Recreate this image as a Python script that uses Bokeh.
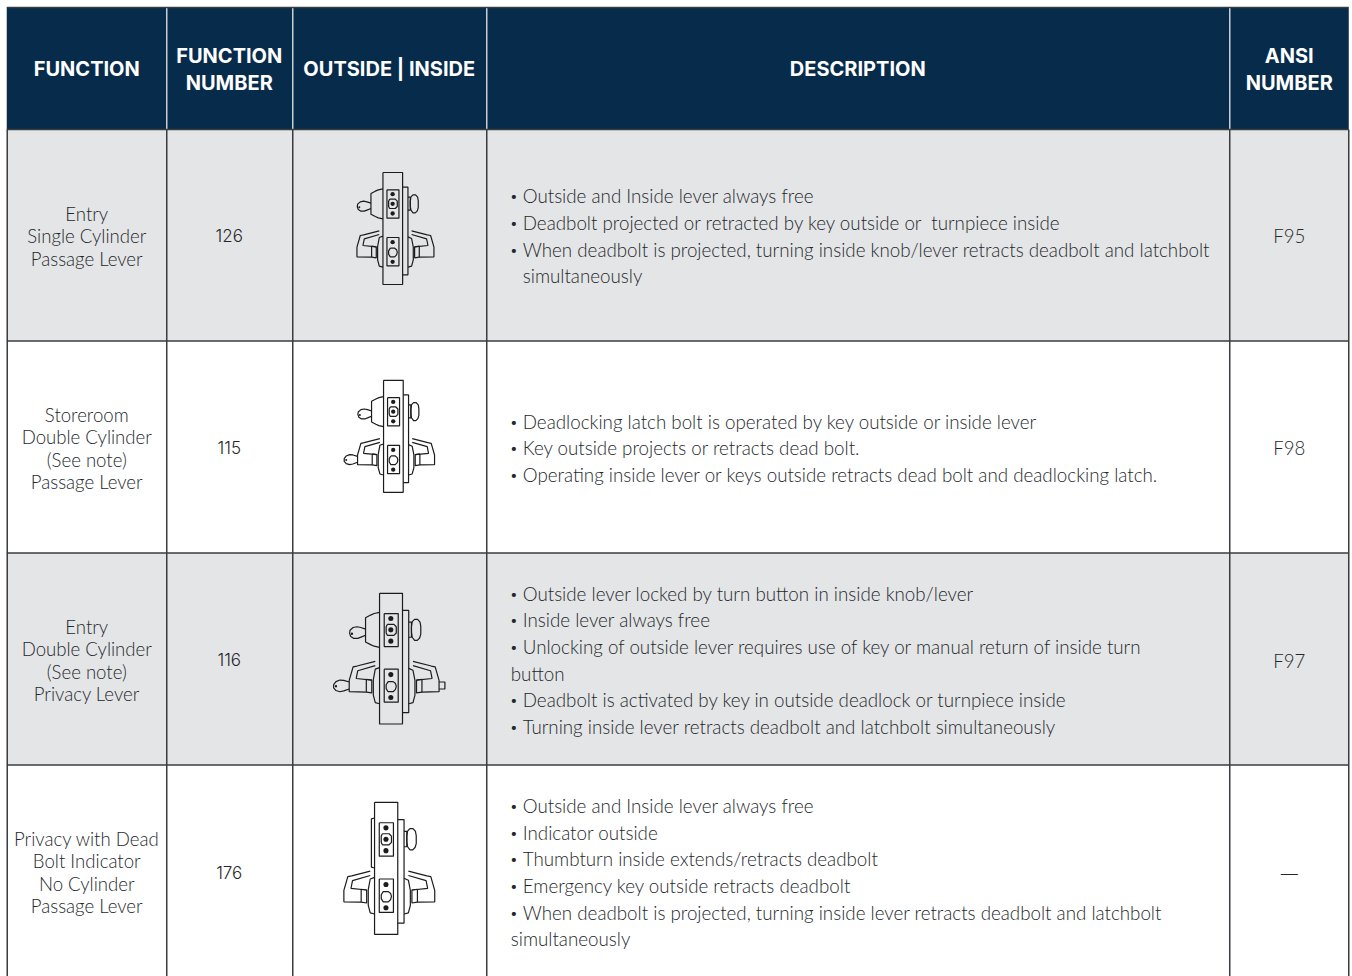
from bokeh.plotting import figure
from bokeh.models import Range1d
from bokeh.core.properties import value
from bokeh.embed import file_html
from bokeh.resources import INLINE

headers = [["FUNCTION"], ["FUNCTION", "NUMBER"], ["OUTSIDE | INSIDE"], ["DESCRIPTION"], ["ANSI", "NUMBER"]]
functions = [
    ["Entry", "Single Cylinder", "Passage Lever"],
    ["Storeroom", "Double Cylinder", "(See note)", "Passage Lever"],
    ["Entry", "Double Cylinder", "(See note)", "Privacy Lever"],
    ["Privacy with Dead", "Bolt Indicator", "No Cylinder", "Passage Lever"],
]
numbers = ["126", "115", "116", "176"]
ansi = ["F95", "F98", "F97", "—"]
# (text, y, 1 = bulleted, 2 = indented continuation, 0 = flush continuation)
descriptions = [
    [("Outside and Inside lever always free", 196, 1), ("Deadbolt projected or retracted by key outside or\u00a0 turnpiece inside", 223, 1),
     ("When deadbolt is projected, turning inside knob/lever retracts deadbolt and latchbolt", 250, 1), ("simultaneously", 276, 2)],
    [("Deadlocking latch bolt is operated by key outside or inside lever", 422, 1), ("Key outside projects or retracts dead bolt.", 448, 1),
     ("Operating inside lever or keys outside retracts dead bolt and deadlocking latch.", 475, 1)],
    [("Outside lever locked by turn button in inside knob/lever", 594, 1), ("Inside lever always free", 620, 1),
     ("Unlocking of outside lever requires use of key or manual return of inside turn", 647, 1), ("button", 674, 0),
     ("Deadbolt is activated by key in outside deadlock or turnpiece inside", 700, 1),
     ("Turning inside lever retracts deadbolt and latchbolt simultaneously", 727, 1)],
    [("Outside and Inside lever always free", 806, 1), ("Indicator outside", 833, 1), ("Thumbturn inside extends/retracts deadbolt", 859, 1),
     ("Emergency key outside retracts deadbolt", 886, 1),
     ("When deadbolt is projected, turning inside lever retracts deadbolt and latchbolt", 913, 1), ("simultaneously", 939, 0)],
]
col_edges = [7.5, 167, 293, 487, 1230, 1349]
row_edges = [130, 341.5, 553.5, 765.5, 977]
func_y = [[214, 236, 259], [415, 437, 460, 482], [627, 649, 672, 694], [839, 861, 884, 906]]
num_y = [236, 448, 660, 873]
ansi_y = [236, 448, 661, 874]

NAVY = "#062b4b"; GRAY = "#e4e5e7"; LINE = "#3a3d40"; TXT = "#24282b"; INK = "#1c1c1c"
BODY = value("Lato Light"); HEAD = value("Inter"); NUM = value("Inter Light")

p = figure(width=1352, height=976, x_range=Range1d(0.75, 1352.75), y_range=Range1d(977, 1),
           toolbar_location=None, output_backend="svg",
           min_border=0, outline_line_color=None, background_fill_color="white")
p.xaxis.visible = False; p.yaxis.visible = False; p.grid.visible = False

p.quad(left=[7], right=[1349], top=[8], bottom=[130], fill_color=NAVY, line_color=None)
p.quad(left=[7, 7], right=[1349, 1349], top=[row_edges[0], row_edges[2]], bottom=[row_edges[1], row_edges[3]], fill_color=GRAY, line_color=None)
for x in col_edges:
    p.line([x, x], [130, 977], line_color=LINE, line_width=1.5)
for x in col_edges[1:-1]:
    p.line([x, x], [8, 130], line_color="#c9ced3", line_width=1.5)
for y in row_edges[:-1]:
    p.line([7, 1349], [y, y], line_color=LINE, line_width=1.5)
p.line([7, 1349], [8, 8], line_color=LINE, line_width=1.5)

centers = [87, 229.5, 389.5, 858, 1289.5]
for h, cx in zip(headers, centers):
    ys = [69] if len(h) == 1 else [56, 83]
    p.text(x=[cx] * len(h), y=ys, text=h, text_font=HEAD, text_font_style="bold", text_font_size="20px",
           text_color="white", text_align="center", text_baseline="middle")
for lines, ys in zip(functions, func_y):
    p.text(x=[87] * len(lines), y=ys, text=lines, text_font=BODY, text_font_size="18.6px", text_color=TXT,
           text_align="center", text_baseline="middle")
p.text(x=[229.5] * 4, y=num_y, text=numbers, text_font=NUM, text_font_size="17px", text_color=TXT, text_align="center", text_baseline="middle")
p.text(x=[1289.5] * 3, y=ansi_y[:3], text=ansi[:3], text_font=BODY, text_font_size="18.6px", text_color=TXT, text_align="center", text_baseline="middle")
p.text(x=[1289.5], y=ansi_y[3:], text=ansi[3:], text_font=NUM, text_font_size="17px", text_color=TXT, text_align="center", text_baseline="middle")
for d in descriptions:
    p.text(x=[523 if l[2] else 511 for l in d], y=[l[1] for l in d], text=[l[0] for l in d], text_font=BODY, text_font_size="18.75px",
           text_color=TXT, text_align="left", text_baseline="middle")
    bul = [l for l in d if l[2] == 1]
    p.text(x=[510] * len(bul), y=[l[1] for l in bul], text=["•"] * len(bul), text_font=BODY, text_font_size="14px",
           text_color=TXT, text_align="left", text_baseline="middle")

PLATE = [(0, 0), (59, 0), (59, 336), (0, 336), (0, 0)]
BACK = [(59, 44), (75, 44), (75, 307), (59, 307)]
BOX1 = [(12, 52), (48, 52), (48, 137), (12, 137), (12, 52)]
BOX2 = [(12, 195), (48, 195), (48, 280), (12, 280), (12, 195)]
CYL = [(20, 80), (37, 80), (43, 86), (43, 102), (37, 108), (20, 108), (17, 102), (17, 86), (20, 80)]
DSHAPE = [(22, 227), (35, 227), (41, 232), (43, 239), (41, 247), (35, 253), (22, 253), (17, 245), (17, 235), (22, 227)]
BOLT = [(0, 49), (-14, 52), (-23, 56), (-36, 63), (-36, 125), (-23, 132), (-14, 136), (0, 139)]
FLAT = [(0, 40), (-8, 42), (-8, 165), (0, 167)]
KEY = [(-36, 92), (-48, 88), (-58, 86), (-68, 88), (-76, 95), (-77, 103), (-74, 111), (-66, 116), (-56, 116), (-46, 112), (-36, 108)]
TURN = [(75, 74), (82, 74), (82, 113), (75, 113)]
KNOB = [(84, 73), (90, 67), (98, 67), (104, 74), (106, 85), (106, 105), (103, 115), (97, 121), (90, 121), (84, 113), (82, 100), (82, 86), (84, 73)]
ROSE_L = [(0, 191), (-11, 195), (-16, 222), (-16, 262), (-11, 281), (0, 284)]
ROSE_R = [(75, 193), (86, 198), (91, 224), (91, 262), (86, 281), (75, 284)]
LEV_L = [(-11, 175), (-58, 187), (-68, 189), (-78, 224), (-78, 253), (-34, 254), (-34, 221)]
INNER_L = [(-11, 186), (-56, 199), (-60, 219), (-20, 223)]
NECK_L = [(-34, 221), (-20, 223), (-20, 256), (-34, 254)]
LEV_R = [(86, 175), (133, 187), (143, 189), (153, 224), (153, 253), (109, 254), (109, 221)]
INNER_R = [(86, 186), (131, 199), (135, 219), (95, 223)]
NECK_R = [(109, 221), (95, 223), (95, 256), (109, 254)]
LKEY = [(-78, 228), (-92, 224), (-102, 223), (-112, 227), (-118, 235), (-118, 243), (-112, 250), (-102, 253), (-92, 251), (-78, 246)]
TAIL = [(153, 228), (168, 228), (168, 246), (153, 246)]
DOTS = [(29, 65), (29, 123), (29, 94), (29, 209), (29, 268)]
KEY_DOT = [(-71, 104)]
LKEY_DOT = [(-112, 239)]

icons = [
    dict(x0=383.2, y0=173.0, s=1 / 3, key=True, lkey=False, tail=False, flat=False),
    dict(x0=383.8, y0=380.8, s=1 / 3, key=True, lkey=True, tail=False, flat=False),
    dict(x0=379.8, y0=593.8, s=1.167 / 3, key=True, lkey=True, tail=True, flat=False),
    dict(x0=374.8, y0=802.8, s=1.18 / 3, key=False, lkey=False, tail=False, flat=True),
]
for ic in icons:
    x0, y0, s = ic["x0"], ic["y0"], ic["s"]
    shapes = [PLATE, BACK, BOX1, BOX2, CYL, DSHAPE, TURN, KNOB, ROSE_L, ROSE_R, LEV_L, INNER_L, NECK_L, LEV_R, INNER_R, NECK_R]
    shapes.append(FLAT if ic["flat"] else BOLT)
    small = []
    if ic["key"]:
        shapes.append(KEY); small += KEY_DOT
    if ic["lkey"]:
        shapes.append(LKEY); small += LKEY_DOT
    if ic["tail"]:
        shapes.append(TAIL)
    p.multi_line(xs=[[x0 + a * s for a, b in sh] for sh in shapes], ys=[[y0 + b * s for a, b in sh] for sh in shapes],
                 line_color=INK, line_width=1.2)
    p.scatter(x=[x0 + a * s for a, b in DOTS], y=[y0 + b * s for a, b in DOTS], size=13 * s, marker="circle", fill_color=INK, line_color=None)
    if small:
        p.scatter(x=[x0 + a * s for a, b in small], y=[y0 + b * s for a, b in small], size=6 * s, marker="circle", fill_color=INK, line_color=None)

open("out.html", "w").write(file_html(p, INLINE))
